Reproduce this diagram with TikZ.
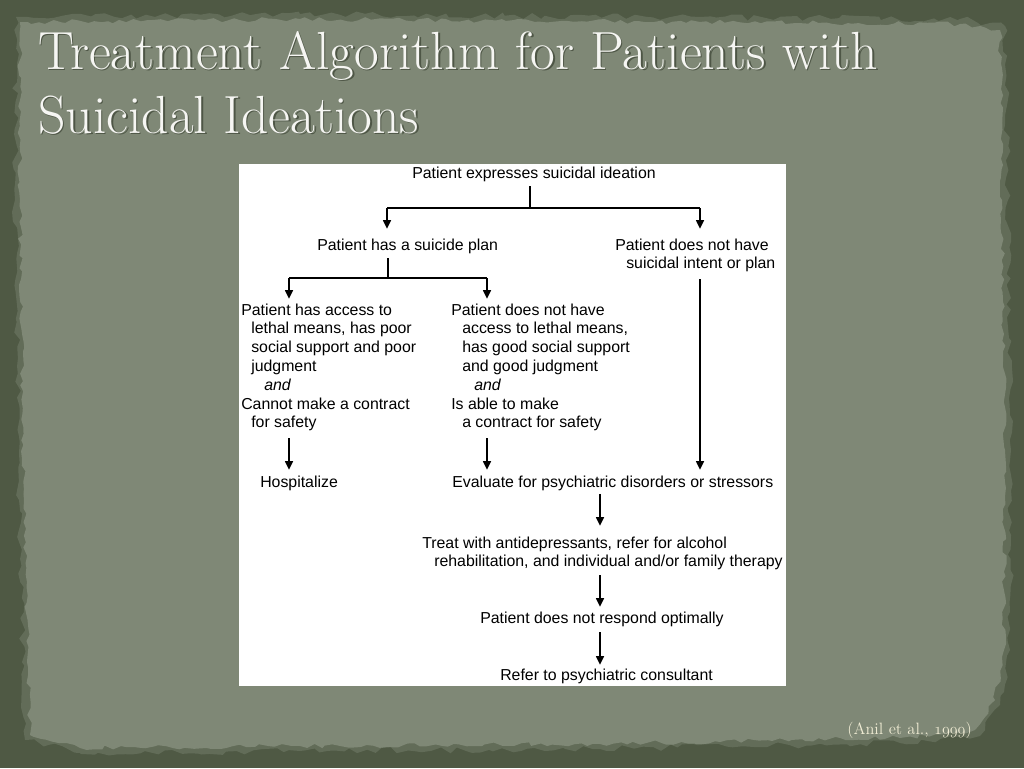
\documentclass[tikz,border=0pt]{standalone}
\usepackage{fontspec}
\newfontfamily\flowfont{Liberation Sans}
\usetikzlibrary{arrows.meta,decorations.pathmorphing}
\definecolor{outerbg}{RGB}{79,89,68}
\definecolor{edgeband}{RGB}{98,108,88}
\definecolor{paper}{RGB}{127,136,118}
\definecolor{titlecol}{RGB}{246,246,243}
\definecolor{titleshadow}{RGB}{78,86,70}
\definecolor{citecol}{RGB}{240,236,212}
\newcommand\flowtab[1]{\begin{tabular}[t]{@{}l@{}}#1\end{tabular}}
\newcommand\oldfig[1]{{\fontencoding{OML}\fontfamily{cmm}\fontseries{m}\fontshape{it}\selectfont #1}}
\begin{document}
\begin{tikzpicture}[x=0.75pt,y=-0.75pt,
  flow/.style={inner sep=0pt, anchor=base west, font=\flowfont\fontsize{11.9}{14.1}\selectfont, text=black},
  link/.style={line width=1pt, draw=black},
  arr/.style={link, -{Triangle[width=6pt,length=6.5pt]}},
  titletext/.style={inner sep=0pt, anchor=base west, font=\fontsize{40.3}{48}\selectfont},
  citetext/.style={inner sep=0pt, anchor=base west, text=citecol, font=\fontsize{12.3}{14}\selectfont},
]
\useasboundingbox (0,0) rectangle (1024,768);
\fill[outerbg] (0,0) rectangle (1024,768);
\pgfmathsetseed{11}
\fill[edgeband, decorate, decoration={random steps, segment length=6pt, amplitude=2.5pt}]
  (16,17) -- (300,14) -- (700,17) -- (960,19) -- (1005,26) -- (1008,200) -- (1011,450)
  -- (1010,650) -- (1000,705) -- (980,736) -- (900,743) -- (600,749) -- (300,751) -- (80,753)
  -- (25,740) -- (19,500) -- (15,200) -- cycle;
\pgfmathsetseed{5}
\fill[paper, decorate, decoration={random steps, segment length=5pt, amplitude=1.8pt}]
  (20,22) -- (300,19) -- (700,22) -- (960,24) -- (1000,30) -- (1002,200) -- (1005,450)
  -- (1004,650) -- (995,700) -- (975,730) -- (900,738) -- (600,744) -- (300,746) -- (80,748)
  -- (30,735) -- (24,500) -- (20,200) -- cycle;

% title
\node[titletext, text=titleshadow] (title1s) at (39.5,70.5) {Treatment Algorithm for Patients with};
\node[titletext, text=titlecol] (title1) at (38,69) {Treatment Algorithm for Patients with};
\node[titletext, text=titleshadow] (title2s) at (39.5,134.5) {Suicidal Ideations};
\node[titletext, text=titlecol] (title2) at (38,133) {Suicidal Ideations};

% white panel
\fill[white] (239,164) rectangle (786,686);

% flow nodes
\node[flow] (top) at (412,178.5) {\flowtab{Patient expresses suicidal ideation}};
\node[flow] (plan) at (317,250) {\flowtab{Patient has a suicide plan}};
\node[flow] (noplan) at (615,250) {\flowtab{Patient does not have\\ \hspace*{8.25pt}suicidal intent or plan}};
\node[flow] (left) at (241,315) {\flowtab{Patient has access to\\ \hspace*{7.5pt}lethal means, has poor\\ \hspace*{7.5pt}social support and poor\\ \hspace*{7.5pt}judgment\\ \hspace*{17.25pt}\textit{and}\\ Cannot make a contract\\ \hspace*{7.5pt}for safety}};
\node[flow] (mid) at (451,315) {\flowtab{Patient does not have\\ \hspace*{8.25pt}access to lethal means,\\ \hspace*{8.25pt}has good social support\\ \hspace*{8.25pt}and good judgment\\ \hspace*{17.25pt}\textit{and}\\ Is able to make\\ \hspace*{8.25pt}a contract for safety}};
\node[flow] (hosp) at (260,487) {\flowtab{Hospitalize}};
\node[flow] (eval) at (452,487) {\flowtab{Evaluate for psychiatric disorders or stressors}};
\node[flow] (treat) at (422,548) {\flowtab{Treat with antidepressants, refer for alcohol\\ \hspace*{9pt}rehabilitation, and individual and/or family therapy}};
\node[flow] (resp) at (480,623) {\flowtab{Patient does not respond optimally}};
\node[flow] (refer) at (500,680) {\flowtab{Refer to psychiatric consultant}};

% connectors
\coordinate (j1) at (530,208);
\coordinate (b1) at (387,208);
\coordinate (b2) at (700,208);
\draw[link, shorten <=1.2pt] (top.south -| j1) -- (j1);
\draw[link] (b1) -- (b2);
\draw[arr, shorten >=5.85pt] (b1) -- (b1 |- plan.north);
\draw[arr, shorten >=5.85pt] (b2) -- (b2 |- noplan.north);
\coordinate (j2) at (388,278);
\coordinate (c1) at (289,278);
\coordinate (c2) at (487,278);
\draw[link, shorten <=1.8pt] (plan.south -| j2) -- (j2);
\draw[link] (c1) -- (c2);
\draw[arr, shorten >=2.1pt] (c1) -- (c1 |- left.north);
\draw[arr, shorten >=2.1pt] (c2) -- (c2 |- mid.north);
\draw[arr, shorten <=3.3pt, shorten >=2.85pt] (noplan.south -| b2) -- (b2 |- eval.north);
\draw[arr, shorten <=3.3pt, shorten >=2.85pt] (left.south -| c1) -- (c1 |- hosp.north);
\draw[arr, shorten <=3.3pt, shorten >=2.85pt] (mid.south -| c2) -- (c2 |- eval.north);
\coordinate (col) at (600,600);
\draw[arr, shorten <=0.8pt, shorten >=6.6pt] (eval.south -| col) -- (col |- treat.north);
\draw[arr, shorten <=1.8pt, shorten >=2.1pt] (treat.south -| col) -- (col |- resp.north);
\draw[arr, shorten <=2.5pt, shorten >=1.35pt] (resp.south -| col) -- (col |- refer.north);

% citation
\node[citetext] (cite) at (847,734) {(Anil et al., \oldfig{1999})};
\end{tikzpicture}
\end{document}
